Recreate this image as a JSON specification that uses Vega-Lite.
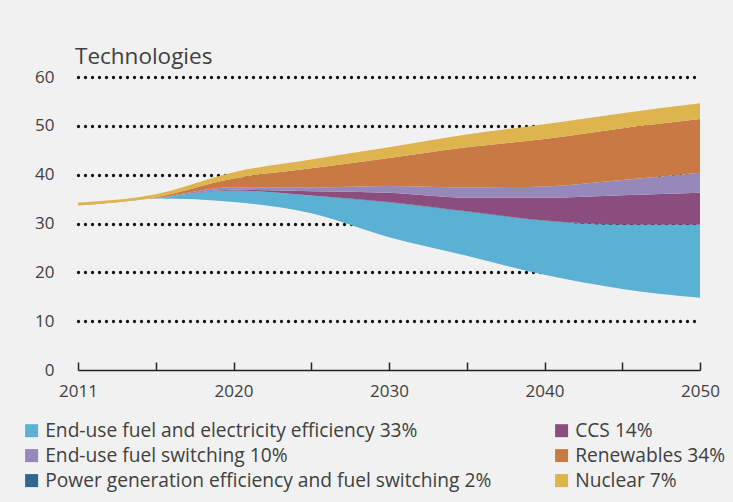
{
  "$schema": "https://vega.github.io/schema/vega-lite/v6.json",
  "width": 622,
  "height": 293,
  "autosize": "none",
  "padding": {"left": 78, "top": 77, "right": 33, "bottom": 132},
  "background": "#f1f1f1",
  "config": {
    "view": {"stroke": null},
    "font": "Open Sans",
    "axis": {"labelFont": "Open Sans", "labelColor": "#404040", "labelFontSize": 17},
    "legend": {"labelFont": "Open Sans"}
  },
  "title": {
    "text": "Technologies",
    "anchor": "start",
    "frame": "group",
    "fontSize": 22.5,
    "fontWeight": "normal",
    "color": "#404040",
    "font": "Open Sans",
    "offset": 0,
    "dx": -3
  },
  "data": {
    "values": [
      {"year": 2011, "tech": "2DS", "value": 33.7},
      {"year": 2011, "tech": "End-use fuel and electricity efficiency 33%", "value": 0},
      {"year": 2011, "tech": "Power generation efficiency and fuel switching 2%", "value": 0},
      {"year": 2011, "tech": "CCS 14%", "value": 0},
      {"year": 2011, "tech": "End-use fuel switching 10%", "value": 0},
      {"year": 2011, "tech": "Renewables 34%", "value": 0},
      {"year": 2011, "tech": "Nuclear 7%", "value": 0.6},

      {"year": 2015, "tech": "2DS", "value": 35.1},
      {"year": 2015, "tech": "End-use fuel and electricity efficiency 33%", "value": 0.1},
      {"year": 2015, "tech": "Power generation efficiency and fuel switching 2%", "value": 0},
      {"year": 2015, "tech": "CCS 14%", "value": 0},
      {"year": 2015, "tech": "End-use fuel switching 10%", "value": 0},
      {"year": 2015, "tech": "Renewables 34%", "value": 0.2},
      {"year": 2015, "tech": "Nuclear 7%", "value": 0.6},

      {"year": 2020, "tech": "2DS", "value": 34.4},
      {"year": 2020, "tech": "End-use fuel and electricity efficiency 33%", "value": 2.3},
      {"year": 2020, "tech": "Power generation efficiency and fuel switching 2%", "value": 0.05},
      {"year": 2020, "tech": "CCS 14%", "value": 0.15},
      {"year": 2020, "tech": "End-use fuel switching 10%", "value": 0.5},
      {"year": 2020, "tech": "Renewables 34%", "value": 1.8},
      {"year": 2020, "tech": "Nuclear 7%", "value": 1.3},

      {"year": 2025, "tech": "2DS", "value": 32.1},
      {"year": 2025, "tech": "End-use fuel and electricity efficiency 33%", "value": 3.6},
      {"year": 2025, "tech": "Power generation efficiency and fuel switching 2%", "value": 0.05},
      {"year": 2025, "tech": "CCS 14%", "value": 0.85},
      {"year": 2025, "tech": "End-use fuel switching 10%", "value": 0.8},
      {"year": 2025, "tech": "Renewables 34%", "value": 3.9},
      {"year": 2025, "tech": "Nuclear 7%", "value": 1.8},

      {"year": 2030, "tech": "2DS", "value": 27.2},
      {"year": 2030, "tech": "End-use fuel and electricity efficiency 33%", "value": 7.1},
      {"year": 2030, "tech": "Power generation efficiency and fuel switching 2%", "value": 0.1},
      {"year": 2030, "tech": "CCS 14%", "value": 1.9},
      {"year": 2030, "tech": "End-use fuel switching 10%", "value": 1.4},
      {"year": 2030, "tech": "Renewables 34%", "value": 5.7},
      {"year": 2030, "tech": "Nuclear 7%", "value": 2.2},

      {"year": 2035, "tech": "2DS", "value": 23.4},
      {"year": 2035, "tech": "End-use fuel and electricity efficiency 33%", "value": 9.0},
      {"year": 2035, "tech": "Power generation efficiency and fuel switching 2%", "value": 0.1},
      {"year": 2035, "tech": "CCS 14%", "value": 2.8},
      {"year": 2035, "tech": "End-use fuel switching 10%", "value": 2.1},
      {"year": 2035, "tech": "Renewables 34%", "value": 8.2},
      {"year": 2035, "tech": "Nuclear 7%", "value": 2.6},

      {"year": 2040, "tech": "2DS", "value": 19.5},
      {"year": 2040, "tech": "End-use fuel and electricity efficiency 33%", "value": 11.0},
      {"year": 2040, "tech": "Power generation efficiency and fuel switching 2%", "value": 0.1},
      {"year": 2040, "tech": "CCS 14%", "value": 4.7},
      {"year": 2040, "tech": "End-use fuel switching 10%", "value": 2.3},
      {"year": 2040, "tech": "Renewables 34%", "value": 9.7},
      {"year": 2040, "tech": "Nuclear 7%", "value": 3.0},

      {"year": 2045, "tech": "2DS", "value": 16.6},
      {"year": 2045, "tech": "End-use fuel and electricity efficiency 33%", "value": 13.1},
      {"year": 2045, "tech": "Power generation efficiency and fuel switching 2%", "value": 0.1},
      {"year": 2045, "tech": "CCS 14%", "value": 6.0},
      {"year": 2045, "tech": "End-use fuel switching 10%", "value": 3.1},
      {"year": 2045, "tech": "Renewables 34%", "value": 10.6},
      {"year": 2045, "tech": "Nuclear 7%", "value": 3.1},

      {"year": 2050, "tech": "2DS", "value": 14.8},
      {"year": 2050, "tech": "End-use fuel and electricity efficiency 33%", "value": 14.9},
      {"year": 2050, "tech": "Power generation efficiency and fuel switching 2%", "value": 0.1},
      {"year": 2050, "tech": "CCS 14%", "value": 6.5},
      {"year": 2050, "tech": "End-use fuel switching 10%", "value": 4.1},
      {"year": 2050, "tech": "Renewables 34%", "value": 11.0},
      {"year": 2050, "tech": "Nuclear 7%", "value": 3.2}
    ]
  },
  "transform": [
    {"calculate": "indexof(['2DS', 'End-use fuel and electricity efficiency 33%', 'Power generation efficiency and fuel switching 2%', 'CCS 14%', 'End-use fuel switching 10%', 'Renewables 34%', 'Nuclear 7%'], datum.tech)", "as": "stackOrder"}
  ],
  "mark": {"type": "area", "interpolate": "monotone"},
  "encoding": {
    "x": {
      "field": "year",
      "type": "ordinal",
      "scale": {"type": "point", "padding": 0},
      "axis": {
        "title": null,
        "labelAngle": 0,
        "labelExpr": "datum.value % 10 == 5 ? '' : datum.label",
        "domainColor": "#222222",
        "domainWidth": 1.5,
        "tickColor": "#222222",
        "tickWidth": 1.5,
        "tickSize": -8,
        "labelPadding": 21,
        "grid": false
      }
    },
    "y": {
      "field": "value",
      "type": "quantitative",
      "stack": "zero",
      "scale": {"domain": [0, 60], "nice": false},
      "axis": {
        "title": null,
        "values": [0, 10, 20, 30, 40, 50, 60],
        "domain": false,
        "ticks": false,
        "tickSize": 0,
        "labelPadding": 24,
        "grid": true,
        "gridColor": "#111111",
        "gridWidth": 3.3,
        "gridDash": [0, 7],
        "gridCap": "round",
        "gridOpacity": {"condition": {"test": "datum.value === 0", "value": 0}, "value": 1}
      }
    },
    "order": {"field": "stackOrder", "type": "quantitative"},
    "color": {
      "field": "tech",
      "type": "nominal",
      "scale": {
        "domain": ["2DS", "End-use fuel and electricity efficiency 33%", "Power generation efficiency and fuel switching 2%", "CCS 14%", "End-use fuel switching 10%", "Renewables 34%", "Nuclear 7%"],
        "range": ["transparent", "#5ab1d4", "#2e6790", "#8a4d7e", "#9788bb", "#c97a44", "#ddb44e"]
      },
      "legend": {
        "title": null,
        "orient": "none",
        "legendX": -56,
        "legendY": 344,
        "columns": 2,
        "values": ["End-use fuel and electricity efficiency 33%", "End-use fuel switching 10%", "Power generation efficiency and fuel switching 2%", "CCS 14%", "Renewables 34%", "Nuclear 7%"],
        "symbolType": "square",
        "symbolSize": 169,
        "symbolStrokeWidth": 0,
        "symbolOpacity": 1,
        "labelFontSize": 19.2,
        "labelColor": "#404040",
        "labelOffset": 4,
        "rowPadding": 5,
        "columnPadding": 60,
        "gridAlign": "each",
        "labelLimit": 600
      }
    }
  }
}
